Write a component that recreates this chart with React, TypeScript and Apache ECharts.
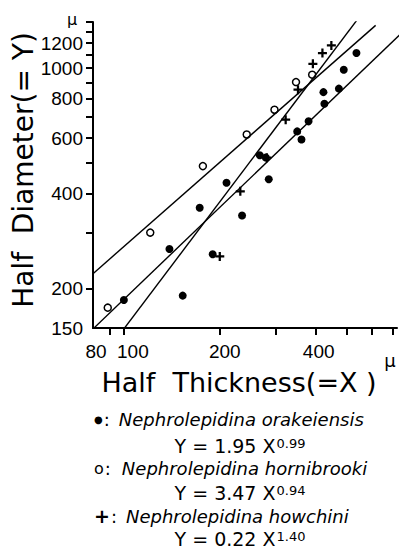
import React, { useEffect, useRef } from "react";
import * as echarts from "echarts";

// ---- axis definitions (values in microns) ----
const xRange = [80, 720];
const yRange = [150, 1400];
const xLabelValues = [80, 100, 200, 400];
const xTickValues = [90, 100, 200, 300, 400, 500, 600, 700];
const yLabelValues = [150, 200, 400, 600, 800, 1000, 1200];
const yTickValues = [200, 300, 400, 500, 600, 700, 800, 900, 1000, 1100, 1200, 1300, 1400];

// ---- data: Half Thickness (X) vs Half Diameter (Y) ----
const orakeiensisX = [100, 139, 153, 173, 190, 210, 235, 267, 279, 285, 350, 361, 380, 423, 426, 473, 490, 537];
const orakeiensisY = [184, 267, 190, 361, 257, 433, 341, 529, 521, 444, 630, 594, 678, 839, 771, 861, 988, 1116];

const hornibrookiX = [89, 121, 177, 243, 297, 347, 390];
const hornibrookiY = [174, 301, 489, 616, 738, 903, 953];

const howchiniX = [200, 232, 281, 322, 352, 392, 420, 448];
const howchiniY = [253, 407, 520, 686, 854, 1032, 1116, 1180];

// regression lines (end points)
const orakeiensisLineX = [80, 740];
const orakeiensisLineY = [149, 1285];
const hornibrookiLineX = [80, 617];
const hornibrookiLineY = [223, 1366];
const howchiniLineX = [100, 538];
const howchiniLineY = [149, 1416];

// ---- texts ----
const xTitle = "Half  Thickness(=X )";
const yTitle = "Half  Diameter(= Y)";
const unitText = "μ";
const speciesNames = ["Nephrolepidina orakeiensis", "Nephrolepidina hornibrooki", "Nephrolepidina howchini"];
const speciesMarks = ["●", "o", "+"];
const eqCoef = ["1.95", "3.47", "0.22"];
const eqExp = ["0.99", "0.94", "1.40"];

const lg = Math.log10;
const pairs = (xs: number[], ys: number[]) => xs.map((x, i) => [lg(x), lg(ys[i])]);

const LABEL_FONT = '"Liberation Sans", Arial, sans-serif';
const TEXT_FONT = '"DejaVu Sans", sans-serif';
const PLUS = "path://M3,0L5,0L5,3L8,3L8,5L5,5L5,8L3,8L3,5L0,5L0,3L3,3Z";

const xLabelShift: Record<number, number> = { 80: 6, 100: 18, 200: 10, 400: 6 };

export default function App() {
  const ref = useRef<HTMLDivElement>(null);
  useEffect(() => {
    if (!ref.current) return;
    const chart = echarts.init(ref.current, null, { renderer: "svg" });

    const xRich: Record<string, any> = {};
    xLabelValues.forEach((v) => {
      xRich["s" + v] = {
        fontFamily: LABEL_FONT,
        fontSize: 19,
        color: "#000",
        padding: [0, 0, 0, xLabelShift[v] || 0],
      };
    });

    const legendY = [419, 468, 516];
    const eqY = [446, 493, 539];
    const markFont = [10, 16, 19];
    const colonGap = [9, 11, 9];

    const legendTexts: any[] = [];
    speciesNames.forEach((name, i) => {
      legendTexts.push({
        type: "text",
        x: 94,
        y: legendY[i],
        style: {
          text: `{m|${speciesMarks[i]}}{c|:}{i|${name}}`,
          verticalAlign: "middle",
          align: "left",
          fill: "#000",
          rich: {
            m: {
              fontFamily: TEXT_FONT,
              fontSize: markFont[i],
              fontWeight: i === 2 ? "bold" : "normal",
              fill: "#000",
            },
            c: { fontFamily: TEXT_FONT, fontSize: 18, fill: "#000", padding: [0, colonGap[i], 0, 1] },
            i: { fontFamily: TEXT_FONT, fontSize: 18, fontStyle: "italic", fill: "#000" },
          },
        },
      });
      legendTexts.push({
        type: "text",
        x: 240,
        y: eqY[i],
        style: {
          text: `{m|Y = ${eqCoef[i]} X}{s|${eqExp[i]}}`,
          verticalAlign: "middle",
          align: "center",
          fill: "#000",
          rich: {
            m: { fontFamily: TEXT_FONT, fontSize: 19, fill: "#000" },
            s: { fontFamily: TEXT_FONT, fontSize: 13, fill: "#000", verticalAlign: "top", padding: [0, 0, 0, 1] },
          },
        },
      });
    });

    const lineStyle = { color: "#000", width: 1.4 };

    chart.setOption({
      animation: false,
      backgroundColor: "#fff",
      grid: { left: 93, right: 3, top: 22, bottom: 223, containLabel: false, outerBoundsMode: "none" },
      xAxis: {
        type: "value",
        min: lg(xRange[0]),
        max: lg(xRange[1]),
        axisLine: { show: true, onZero: false, lineStyle: { color: "#000", width: 2 } },
        axisTick: {
          show: true,
          inside: false,
          length: 7,
          customValues: xTickValues.map(lg),
          lineStyle: { color: "#000", width: 2 },
        },
        axisLabel: {
          show: true,
          margin: 14,
          customValues: xLabelValues.map(lg),
          formatter: (v: number) => {
            const n = Math.round(Math.pow(10, v));
            return `{s${n}|${n}}`;
          },
          rich: xRich,
          fontFamily: LABEL_FONT,
          fontSize: 19,
          color: "#000",
        },
        splitLine: { show: false },
      },
      yAxis: {
        type: "value",
        min: lg(yRange[0]),
        max: lg(yRange[1]),
        axisLine: { show: true, onZero: false, lineStyle: { color: "#000", width: 2 } },
        axisTick: {
          show: true,
          inside: false,
          length: 7,
          customValues: yTickValues.map(lg),
          lineStyle: { color: "#000", width: 2 },
        },
        axisLabel: {
          show: true,
          margin: 10,
          customValues: yLabelValues.map(lg),
          formatter: (v: number) => String(Math.round(Math.pow(10, v))),
          fontFamily: LABEL_FONT,
          fontSize: 19,
          color: "#000",
        },
        splitLine: { show: false },
      },
      series: [
        { type: "line", data: pairs(orakeiensisLineX, orakeiensisLineY), symbol: "none", lineStyle, clip: true, silent: true },
        { type: "line", data: pairs(hornibrookiLineX, hornibrookiLineY), symbol: "none", lineStyle, clip: true, silent: true },
        { type: "line", data: pairs(howchiniLineX, howchiniLineY), symbol: "none", lineStyle, clip: true, silent: true },
        {
          name: speciesNames[0],
          type: "scatter",
          data: pairs(orakeiensisX, orakeiensisY),
          symbol: "circle",
          symbolSize: 8,
          itemStyle: { color: "#000", opacity: 1 },
        },
        {
          name: speciesNames[1],
          type: "scatter",
          data: pairs(hornibrookiX, hornibrookiY),
          symbol: "circle",
          symbolSize: 7,
          itemStyle: { color: "#fff", borderColor: "#000", borderWidth: 1.5, opacity: 1 },
        },
        {
          name: speciesNames[2],
          type: "scatter",
          data: pairs(howchiniX, howchiniY),
          symbol: PLUS,
          symbolSize: 9,
          itemStyle: { color: "#000", opacity: 1 },
        },
      ],
      graphic: [
        {
          type: "text",
          x: 23,
          y: 170,
          rotation: Math.PI / 2,
          style: { text: yTitle, font: `28px ${TEXT_FONT}`, align: "center", verticalAlign: "middle", fill: "#000" },
        },
        {
          type: "text",
          x: 239,
          y: 382,
          style: { text: xTitle, font: `27px ${TEXT_FONT}`, align: "center", verticalAlign: "middle", fill: "#000" },
        },
        {
          type: "text",
          x: 72,
          y: 19,
          style: { text: unitText, font: `16px ${TEXT_FONT}`, align: "center", verticalAlign: "middle", fill: "#000" },
        },
        {
          type: "text",
          x: 390,
          y: 360,
          style: { text: unitText, font: `18px ${TEXT_FONT}`, align: "center", verticalAlign: "middle", fill: "#000" },
        },
        ...legendTexts,
      ],
    });
    return () => chart.dispose();
  }, []);

  return (
    <div
      ref={ref}
      style={{ position: "fixed", left: 0, top: 0, width: 400, height: 551, background: "#fff" }}
    />
  );
}
